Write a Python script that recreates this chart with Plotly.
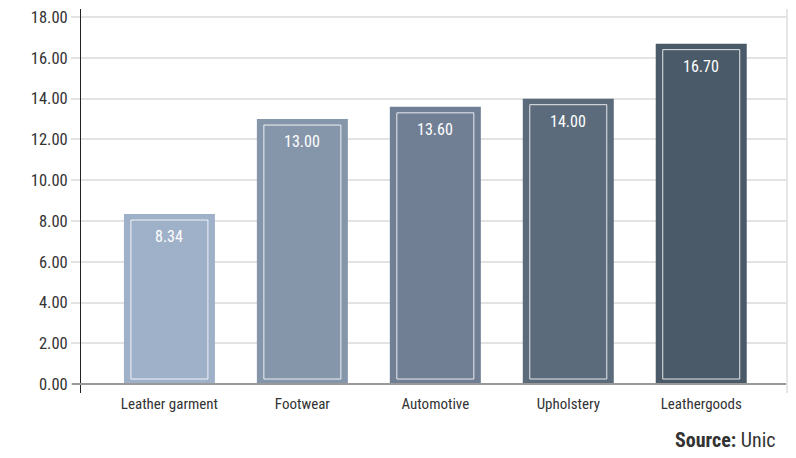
import plotly.graph_objects as go

categories = ["Leather garment", "Footwear", "Automotive", "Upholstery", "Leathergoods"]
values = [8.34, 13.00, 13.60, 14.00, 16.70]
bar_colors = ["#9fb1c9", "#8596ab", "#717f95", "#5c6b7c", "#4a5a69"]
tick_vals = [0, 2, 4, 6, 8, 10, 12, 14, 16, 18]
tick_text = ["%.2f" % t for t in tick_vals]
value_labels = ["%.2f" % v for v in values]

FONT = "Roboto Condensed, DejaVu Sans Condensed, sans-serif"

W, H = 796, 458
ml, mr, mt, mb = 81, 9, 9, 65
plot_h = H - mt - mb
y_lo, y_hi = -0.44, 18.40
px_per_unit = plot_h / (y_hi - y_lo)
x_lo, x_hi = -0.665, 4.645
px_per_cat = (W - ml - mr) / (x_hi - x_lo)

bar_w = 91 / px_per_cat
inner_w = bar_w - 2 * 7 / px_per_cat
top_inset = 6 / px_per_unit
bot_inset = 5 / px_per_unit

fig = go.Figure()
fig.add_trace(go.Bar(
    x=categories, y=values, width=bar_w,
    marker=dict(color=bar_colors, line=dict(width=0)),
    hoverinfo="skip", showlegend=False,
))
fig.add_trace(go.Bar(
    x=categories, y=[v - top_inset - bot_inset for v in values], base=bot_inset,
    width=inner_w,
    marker=dict(color="rgba(0,0,0,0)", line=dict(color="rgba(255,255,255,0.85)", width=1)),
    hoverinfo="skip", showlegend=False,
))

for c, v, t in zip(categories, values, value_labels):
    fig.add_annotation(x=c, y=v, text=t, showarrow=False, yanchor="top", yshift=-11,
                       font=dict(family=FONT, size=16, color="white"))

fig.add_annotation(xref="paper", yref="paper", x=1.0, xshift=-9, y=-0.122, yanchor="middle",
                   xanchor="right", showarrow=False,
                   text="<b>Source:</b> Unic",
                   font=dict(family=FONT, size=20, color="#333333"))

# zero baseline
fig.add_shape(type="line", xref="paper", yref="y", x0=-9 / (W - ml - mr), x1=1, y0=0, y1=0,
              line=dict(color="#999999", width=2), layer="above")
# faint right border
fig.add_shape(type="line", xref="paper", yref="paper", x0=1, x1=1, y0=0, y1=1,
              line=dict(color="#e6e6e6", width=2))

fig.update_layout(
    width=W, height=H,
    margin=dict(l=ml, r=mr, t=mt, b=mb),
    paper_bgcolor="white", plot_bgcolor="white",
    barmode="overlay",
    font=dict(family=FONT, size=16, color="#333333"),
    xaxis=dict(range=[x_lo, x_hi], showgrid=False, showline=False, ticks="",
               tickfont=dict(size=15, color="#333333"), zeroline=False),
    yaxis=dict(range=[y_lo, y_hi], tickvals=tick_vals, ticktext=tick_text,
               showgrid=True, gridcolor="#e3e3e3", gridwidth=2,
               ticks="outside", ticklen=9, tickcolor="#e3e3e3", tickwidth=2,
               showline=True, linecolor="#222222", linewidth=1,
               zeroline=False, tickfont=dict(size=16.5, color="#333333")),
)

fig.write_html("out.html")
